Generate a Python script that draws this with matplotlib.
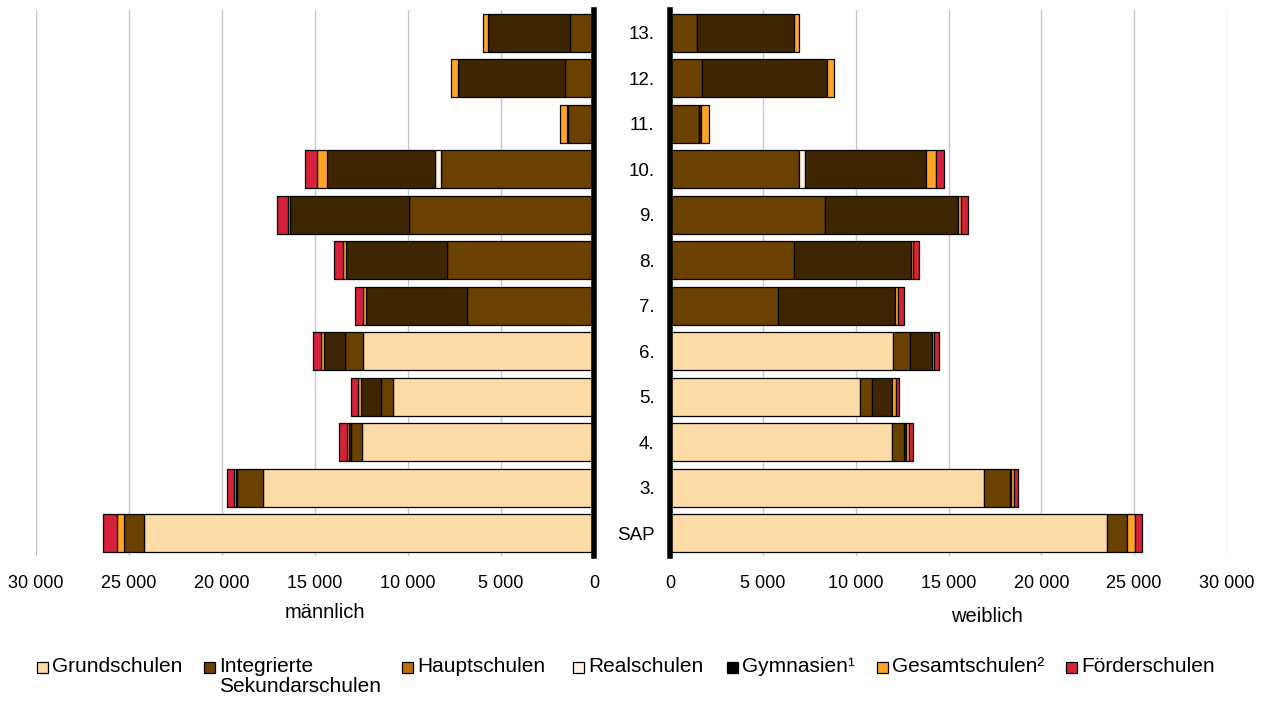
import numpy as np
import matplotlib
matplotlib.use('Agg')
import matplotlib.pyplot as plt
from matplotlib.patches import Rectangle

plt.rcParams['font.family'] = ['Liberation Sans', 'DejaVu Sans']

# Klassenstufen von unten nach oben
cats = ['SAP', '3.', '4.', '5.', '6.', '7.', '8.', '9.', '10.', '11.', '12.', '13.']

series = ['Grundschulen', 'Integrierte\nSekundarschulen', 'Hauptschulen', 'Realschulen',
          'Gymnasien¹', 'Gesamtschulen²', 'Förderschulen']
colors = ['#FDDBA7', '#6B4100', '#C46E00', '#FFF3E3', '#3D2600', '#FFA424', '#D52139']
legend_colors = ['#FDDBA7', '#6B4100', '#C46E00', '#FFF3E3', '#000000', '#FFA424', '#D52139']

# männlich
grund_m = [24170, 17780, 12470, 10790, 12440, 0, 0, 0, 0, 0, 0, 0]
iss_m = [1110, 1400, 620, 650, 970, 6830, 7900, 9930, 8230, 1380, 1560, 1290]
haupt_m = [0, 0, 0, 0, 0, 0, 0, 0, 0, 0, 0, 0]
real_m = [0, 0, 0, 0, 0, 0, 0, 0, 340, 0, 0, 0]
gym_m = [0, 90, 90, 1100, 1110, 5450, 5450, 6420, 5790, 75, 5750, 4430]
ges_m = [390, 110, 110, 140, 160, 145, 145, 125, 540, 355, 375, 250]
foer_m = [740, 340, 410, 400, 410, 410, 480, 590, 625, 0, 0, 0]

# weiblich
grund_w = [23530, 16920, 11930, 10240, 12020, 0, 0, 0, 0, 0, 0, 0]
iss_w = [1080, 1400, 700, 650, 900, 5840, 6700, 8340, 6970, 1580, 1750, 1480]
haupt_w = [0, 0, 0, 0, 0, 0, 0, 0, 0, 0, 0, 0]
real_w = [0, 0, 0, 0, 0, 0, 0, 0, 320, 0, 0, 0]
gym_w = [0, 60, 60, 1080, 1190, 6300, 6270, 7170, 6520, 110, 6680, 5190]
ges_w = [410, 160, 160, 180, 120, 160, 140, 180, 520, 400, 380, 300]
foer_w = [380, 220, 240, 180, 250, 290, 310, 360, 420, 0, 0, 0]

male = [grund_m, iss_m, haupt_m, real_m, gym_m, ges_m, foer_m]
female = [grund_w, iss_w, haupt_w, real_w, gym_w, ges_w, foer_w]

ticks = [0, 5000, 10000, 15000, 20000, 25000, 30000]
tick_labels = ['0', '5 000', '10 000', '15 000', '20 000', '25 000', '30 000']

fig = plt.figure(figsize=(12.63, 7.02), dpi=100)
ax_m = fig.add_axes([36 / 1263, 146 / 702, 558 / 1263, 546 / 702])
ax_w = fig.add_axes([670 / 1263, 146 / 702, 557 / 1263, 546 / 702])

y = np.arange(len(cats))
for ax, data in [(ax_m, male), (ax_w, female)]:
    left = np.zeros(len(cats))
    for vals, col in zip(data, colors):
        vals = np.array(vals, dtype=float)
        mask = vals > 0
        ax.barh(y[mask], vals[mask], left=left[mask], height=0.83, color=col,
                edgecolor='black', linewidth=0.9, zorder=3)
        left += vals
    ax.set_ylim(-0.5, len(cats) - 0.5)
    ax.set_xticks(ticks)
    ax.set_xticklabels(tick_labels, fontsize=13)
    ax.tick_params(axis='x', length=0, pad=14)
    ax.grid(axis='x', color='#C8C8C8', linewidth=1, zorder=0)
    for s in ax.spines.values():
        s.set_visible(False)

ax_m.set_xlim(30000, 0)
ax_w.set_xlim(0, 30000)

ax_m.set_yticks([])
ax_m.spines['right'].set_visible(True)
ax_m.spines['right'].set_linewidth(4)
ax_m.spines['right'].set_zorder(5)

ax_w.spines['left'].set_visible(True)
ax_w.spines['left'].set_linewidth(4)
ax_w.spines['left'].set_zorder(5)
ax_w.set_yticks(y)
ax_w.set_yticklabels(cats, fontsize=13.5)
ax_w.tick_params(axis='y', length=0, pad=11)

fig.text(325 / 1263, 1 - 613 / 702, 'männlich', fontsize=14.5, ha='center', va='center')
fig.text(987 / 1263, 1 - 617 / 702, 'weiblich', fontsize=14.5, ha='center', va='center')

# Legende
sw_x = [37, 204, 402, 573, 727, 877, 1066]
ly = 1 - 667 / 702
for lab, col, x in zip(series, legend_colors, sw_x):
    fig.add_artist(Rectangle((x / 1263, ly - 5.5 / 702), 11 / 1263, 11 / 702,
                             transform=fig.transFigure, facecolor=col,
                             edgecolor='black', linewidth=0.9))
    fig.text((x + 15) / 1263, ly + 9.5 / 702, lab, fontsize=15, ha='left', va='top',
             linespacing=1.05)

fig.savefig('out.png', dpi=100)
